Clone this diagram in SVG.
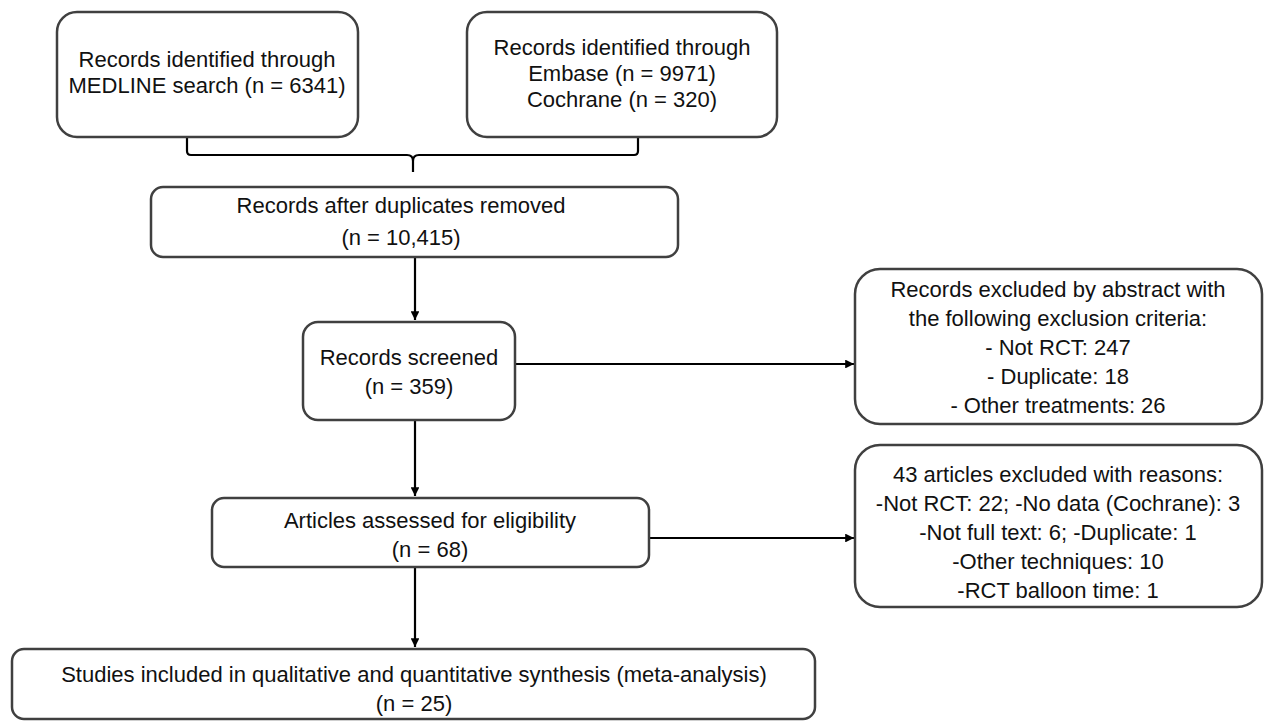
<svg xmlns="http://www.w3.org/2000/svg" width="1266" height="721" viewBox="0 0 1266 721">
<style>
.box{fill:#ffffff;stroke:#404040;stroke-width:2.5}
.t{font-family:"Liberation Sans",Arial,sans-serif;font-size:22px;fill:#111111;text-anchor:middle}
.c{fill:none;stroke:#000000;stroke-width:2.2}
</style>
<defs>
<marker id="ah" viewBox="0 0 10 10" refX="10" refY="5" markerWidth="4" markerHeight="4" orient="auto" markerUnits="strokeWidth">
<path d="M0,0 L10,5 L0,10 z" fill="#000000"/>
</marker>
</defs>
<rect width="1266" height="721" fill="#ffffff"/>
<g id="connectors">
<path class="c" d="M187,138 V151 Q187,155 191,155 H407 Q413,155 413,161 V172 M413,161 Q413,155 419,155 H634 Q638,155 638,151 V138"/>
<line class="c" x1="415" y1="257" x2="415" y2="320" marker-end="url(#ah)"/>
<line class="c" x1="515" y1="364" x2="854" y2="364" marker-end="url(#ah)"/>
<line class="c" x1="415" y1="420" x2="415" y2="496" marker-end="url(#ah)"/>
<line class="c" x1="649" y1="538" x2="854" y2="538" marker-end="url(#ah)"/>
<line class="c" x1="415" y1="567" x2="415" y2="647" marker-end="url(#ah)"/>
</g>
<g id="medline">
<rect class="box" x="57" y="12" width="301" height="125" rx="20"/>
<text class="t" x="207" y="67">Records identified through</text>
<text class="t" x="207" y="93">MEDLINE search (n = 6341)</text>
</g>
<g id="embase">
<rect class="box" x="467" y="12" width="310" height="125" rx="20"/>
<text class="t" x="622" y="55">Records identified through</text>
<text class="t" x="622" y="81">Embase (n = 9971)</text>
<text class="t" x="622" y="107">Cochrane (n = 320)</text>
</g>
<g id="deduplicated">
<rect class="box" x="151" y="187" width="527" height="70" rx="12"/>
<text class="t" x="401" y="213">Records after duplicates removed</text>
<text class="t" x="401" y="245">(n = 10,415)</text>
</g>
<g id="screened">
<rect class="box" x="303" y="322" width="212" height="98" rx="15"/>
<text class="t" x="409" y="365">Records screened</text>
<text class="t" x="409" y="394">(n = 359)</text>
</g>
<g id="excluded-abstract">
<rect class="box" x="855" y="269" width="407" height="155" rx="25"/>
<text class="t" x="1058" y="297">Records excluded by abstract with</text>
<text class="t" x="1058" y="326">the following exclusion criteria:</text>
<text class="t" x="1058" y="355">- Not RCT: 247</text>
<text class="t" x="1058" y="384">- Duplicate: 18</text>
<text class="t" x="1058" y="413">- Other treatments: 26</text>
</g>
<g id="eligibility">
<rect class="box" x="212" y="498" width="437" height="69" rx="12"/>
<text class="t" x="430" y="528">Articles assessed for eligibility</text>
<text class="t" x="430" y="557">(n = 68)</text>
</g>
<g id="excluded-fulltext">
<rect class="box" x="855" y="445" width="407" height="162" rx="25"/>
<text class="t" x="1058" y="482">43 articles excluded with reasons:</text>
<text class="t" x="1058" y="511">-Not RCT: 22; -No data (Cochrane): 3</text>
<text class="t" x="1058" y="540">-Not full text: 6; -Duplicate: 1</text>
<text class="t" x="1058" y="569">-Other techniques: 10</text>
<text class="t" x="1058" y="598">-RCT balloon time: 1</text>
</g>
<g id="included">
<rect class="box" x="12" y="649" width="803" height="70" rx="12"/>
<text class="t" x="414" y="682">Studies included in qualitative and quantitative synthesis (meta-analysis)</text>
<text class="t" x="414" y="711">(n = 25)</text>
</g>
</svg>
